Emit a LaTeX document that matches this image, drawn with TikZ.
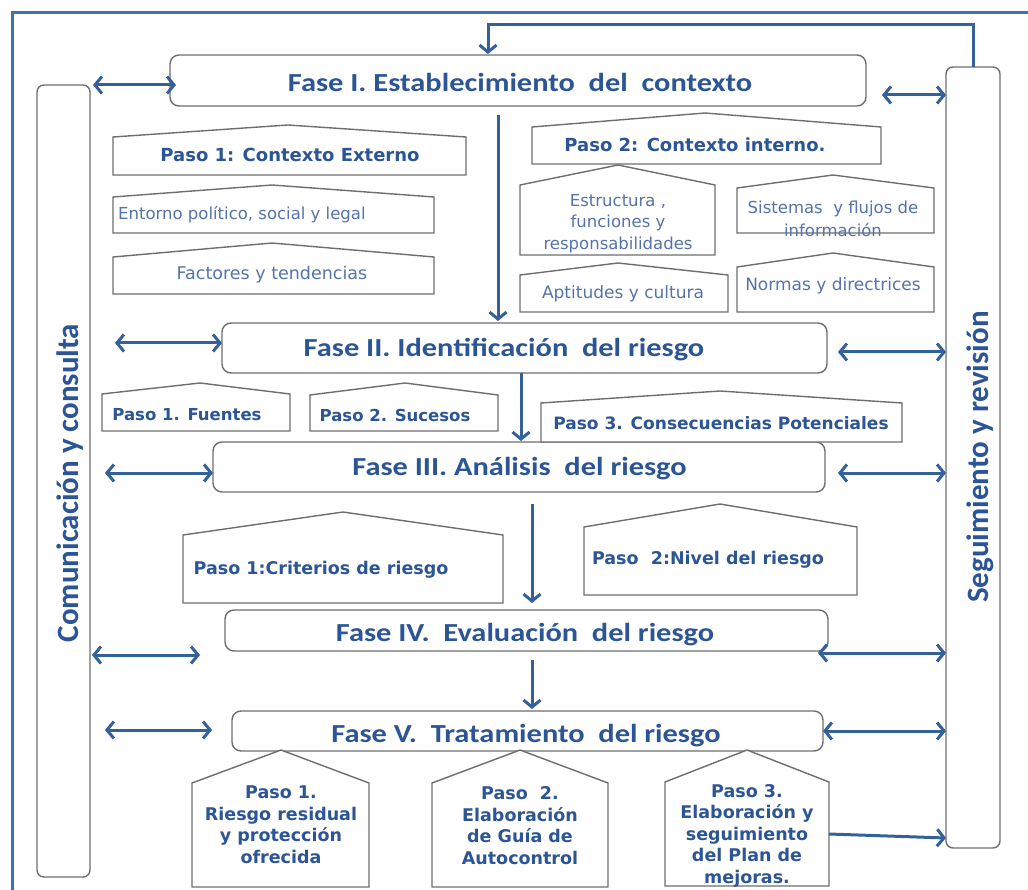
\documentclass[tikz,border=0pt]{standalone}
\usepackage{fontspec}
\setmainfont{Carlito}
\newfontfamily\fasefont[FakeStretch=1.17]{Carlito}
\newfontfamily\verd{DejaVu Sans}
\usetikzlibrary{arrows.meta}
\definecolor{tblue}{HTML}{2C5596}
\definecolor{lblue}{HTML}{5573AC}
\definecolor{ablue}{HTML}{35619A}
\definecolor{fblue}{HTML}{4470AC}
\definecolor{bgray}{HTML}{6E6E6E}
\tikzset{
  boxline/.style={draw=bgray, line width=1.4pt, line join=miter},
  fasebox/.style={boxline, rounded corners=9pt, inner sep=0pt, fill=white},
  colbox/.style={boxline, rounded corners=7pt, inner sep=0pt},
  fasetext/.style={text=tblue, font=\fasefont\bfseries\fontsize{26}{30}\selectfont, inner sep=0pt},
  coltext/.style={text=tblue, font=\bfseries\fontsize{31}{34}\selectfont, inner sep=0pt, rotate=90},
  pasotext/.style={text=tblue, font=\verd\bfseries\fontsize{17.5}{21.5}\selectfont, inner sep=0pt, align=center},
  lighttext/.style={text=lblue, font=\verd\fontsize{16.5}{21.5}\selectfont, inner sep=0pt, align=center},
  ftip/.tip={Straight Barb[length=7pt,width=17pt,line join=miter]},
  arr/.style={draw=ablue, line width=3pt, -ftip},
  darr/.style={draw=ablue, line width=3pt, ftip-ftip},
  frame/.style={draw=fblue, line width=3pt},
}
\newcommand\househ[6]{\draw[boxline, fill=white] (#1,#5) -- (#1,#4) -- (#6,#3) -- (#2,#4) -- (#2,#5) -- cycle;}
\begin{document}
\begin{tikzpicture}[x=1pt,y=-1pt]
\useasboundingbox (0,0) rectangle (1028,890);
% outer frame
\coordinate (fr1) at (12,890);
\coordinate (fr2) at (12,13);
\coordinate (fr3) at (1030,13);
\draw[frame] (fr1) -- (fr2) -- (fr3);
% side columns
\node[colbox, minimum width=53pt, minimum height=792pt] (cl) at (63.5,481) {};
\node[colbox, minimum width=54pt, minimum height=781pt] (cr) at (973,457.5) {};
\node[coltext] (clt) at (70,483) {Comunicación y consulta};
\node[coltext] (crt) at (980,457) {Seguimiento y revisión};
% fase boxes
\node[fasebox, minimum width=696pt, minimum height=51pt] (f1) at (518,80.5) {};
\node[fasebox, minimum width=605pt, minimum height=50pt] (f2) at (524.5,348) {};
\node[fasebox, minimum width=612pt, minimum height=50pt] (f3) at (519,467) {};
\node[fasebox, minimum width=603pt, minimum height=41pt] (f4) at (526.5,630.5) {};
\node[fasebox, minimum width=591pt, minimum height=40pt] (f5) at (527.5,731) {};
\node[fasetext] (f1t) at (520,82) {Fase I. Establecimiento~ del~ contexto};
\node[fasetext] (f2t) at (504,350) {Fase II. Identificación~ del riesgo};
\node[fasetext] (f3t) at (519.5,469) {Fase III. Análisis~ del riesgo};
\node[fasetext] (f4t) at (525,635) {Fase IV.~ Evaluación~ del riesgo};
\node[fasetext] (f5t) at (526,736) {Fase V.~ Tratamiento~ del riesgo};
% houses
\househ{113}{466}{125}{137}{175}{288}
\househ{113}{434}{185}{197}{233}{272}
\househ{113}{434}{243}{257}{294}{272}
\househ{532}{881}{113}{127}{164}{705}
\househ{520}{715}{165}{185}{255}{618}
\househ{737}{934}{175}{188}{233}{833}
\househ{520}{728}{263}{275}{312}{618}
\househ{737}{934}{253}{267}{312}{833}
\househ{102}{290}{383}{394}{431}{200}
\househ{310}{498}{383}{395}{431}{405}
\househ{541}{902}{391}{403}{442}{720}
\househ{183}{503}{512}{535}{603}{343}
\househ{584}{857}{504}{527}{595}{720}
\househ{192}{369}{750}{783}{887}{281}
\househ{432}{608}{750}{783}{887}{520}
\househ{665}{829}{750}{782}{886}{747}
% house texts
\node[pasotext, font=\verd\bfseries\fontsize{18}{21}\selectfont] (t1) at (290,155) {Paso 1: Contexto Externo};
\node[lighttext, anchor=west] (t2) at (118,215) {Entorno político, social y legal};
\node[lighttext, font=\verd\fontsize{17.5}{21.5}\selectfont] (t3) at (272,275) {Factores y tendencias};
\node[pasotext, font=\verd\bfseries\fontsize{18}{21}\selectfont] (t4) at (695,145) {Paso 2: Contexto interno.};
\node[lighttext] (t5) at (618,223.5) {Estructura ,\\funciones y\\responsabilidades};
\node[lighttext, font=\verd\fontsize{16.5}{23}\selectfont] (t6) at (833,218.5) {Sistemas~ y flujos de\\información};
\node[lighttext, font=\verd\fontsize{17}{21.5}\selectfont] (t7) at (623,294) {Aptitudes y cultura};
\node[lighttext, font=\verd\fontsize{17}{21.5}\selectfont] (t8) at (833,286) {Normas y directrices};
\node[pasotext, font=\verd\bfseries\fontsize{16.5}{20}\selectfont] (t9) at (187,415) {Paso 1. Fuentes};
\node[pasotext, font=\verd\bfseries\fontsize{16.5}{20}\selectfont] (t10) at (395,415) {Paso 2. Sucesos};
\node[pasotext, font=\verd\bfseries\fontsize{17}{20}\selectfont] (t11) at (721,423) {Paso 3. Consecuencias Potenciales};
\node[pasotext] (t12) at (321,570) {Paso 1:Criterios de riesgo};
\node[pasotext] (t13) at (708,560) {Paso~ 2:Nivel del riesgo};
\node[pasotext] (t14) at (281,824.5) {Paso 1.\\Riesgo residual\\y protección\\ofrecida};
\node[pasotext] (t15) at (520,825.5) {Paso~ 2.\\Elaboración\\de Guía de\\Autocontrol};
\node[pasotext] (t16) at (747,835.5) {Paso 3.\\Elaboración y\\seguimiento\\del Plan de\\mejoras.};
% feedback loop
\coordinate (fb1) at (973,67);
\coordinate (fb2) at (973,25);
\coordinate (fb3) at (488,25);
\coordinate (fb4) at (488,54);
\draw[arr] (fb1) -- (fb2) -- (fb3) -- (fb4);
% left double arrows
\coordinate (la1) at (93,85);  \coordinate (lb1) at (176,85);
\coordinate (la2) at (115,343); \coordinate (lb2) at (222,343);
\coordinate (la3) at (105,473); \coordinate (lb3) at (213,473);
\coordinate (la4) at (92,655); \coordinate (lb4) at (200,655);
\coordinate (la5) at (105,730); \coordinate (lb5) at (212,730);
\draw[darr] (la1) -- (lb1);
\draw[darr] (la2) -- (lb2);
\draw[darr] (la3) -- (lb3);
\draw[darr] (la4) -- (lb4);
\draw[darr] (la5) -- (lb5);
% right double arrows
\coordinate (ra1) at (882,95);  \coordinate (rb1) at (946,95);
\coordinate (ra2) at (838,352); \coordinate (rb2) at (946,352);
\coordinate (ra3) at (838,473); \coordinate (rb3) at (946,473);
\coordinate (ra4) at (818,653); \coordinate (rb4) at (946,653);
\coordinate (ra5) at (823,731); \coordinate (rb5) at (946,731);
\draw[darr] (ra1) -- (rb1);
\draw[darr] (ra2) -- (rb2);
\draw[darr] (ra3) -- (rb3);
\draw[darr] (ra4) -- (rb4);
\draw[darr] (ra5) -- (rb5);
% down arrows
\coordinate (d1a) at (498,115); \coordinate (d1b) at (498,321);
\coordinate (d2a) at (521,373); \coordinate (d2b) at (521,441);
\coordinate (d3a) at (532,504); \coordinate (d3b) at (532,603);
\coordinate (d4a) at (532,660); \coordinate (d4b) at (532,709);
\draw[arr] (d1a) -- (d1b);
\draw[arr] (d2a) -- (d2b);
\draw[arr] (d3a) -- (d3b);
\draw[arr] (d4a) -- (d4b);
% paso 3 to seguimiento
\coordinate (p3a) at (829,834); \coordinate (p3b) at (946,838);
\draw[arr] (p3a) -- (p3b);
\end{tikzpicture}
\end{document}
